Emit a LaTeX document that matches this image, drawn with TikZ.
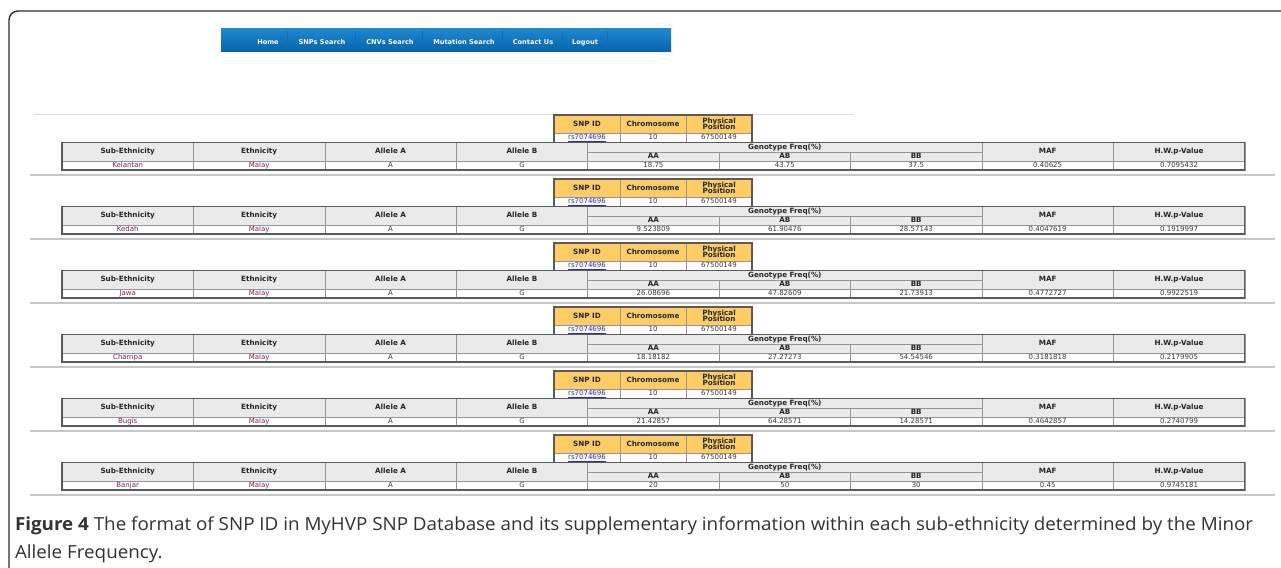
\documentclass[tikz,border=0pt]{standalone}
\usepackage{fontspec}
\usepackage{graphicx}
\newfontfamily\tabfont{DejaVu Sans}
\newfontfamily\capfont{Open Sans}
\definecolor{navtop}{RGB}{30,136,208}
\definecolor{navbot}{RGB}{4,98,170}
\definecolor{navdiv}{RGB}{20,110,180}
\definecolor{snphead}{RGB}{255,204,102}
\definecolor{tabhead}{RGB}{234,234,234}
\definecolor{tabline}{RGB}{90,90,90}
\definecolor{innerline}{RGB}{150,150,150}
\definecolor{sepgray}{RGB}{200,200,200}
\definecolor{linkblue}{RGB}{40,40,220}
\definecolor{subcol}{RGB}{110,40,90}
\definecolor{datacol}{RGB}{60,60,60}
\definecolor{captext}{RGB}{50,50,50}
\definecolor{framecol}{RGB}{45,45,45}
\begin{document}
\begin{tikzpicture}[x=1pt,y=-1pt,
  every node/.style={inner sep=0pt,outer sep=0pt},
  navitem/.style={text=white,font=\tabfont\bfseries\fontsize{6.6}{7}\selectfont,text height=4.8pt,text depth=1.4pt},
  hfontbase/.style={font=\tabfont\bfseries\fontsize{7.2}{7.4}\selectfont,text=black!85},
  hfont/.style={hfontbase,text height=5.2pt,text depth=1.2pt},
  dfont/.style={font=\tabfont\fontsize{7}{7}\selectfont,text=datacol,text height=5.1pt,text depth=1.3pt},
  snphbox/.style={draw=innerline,line width=0.6pt,fill=snphead,minimum width=66pt,minimum height=18pt},
  snphcell/.style={snphbox,hfont},
  snphcelltwo/.style={snphbox,hfontbase,align=center},
  snpdcell/.style={draw=innerline,line width=0.6pt,fill=white,minimum width=66pt,minimum height=9.5pt,dfont},
  hcell/.style={draw=innerline,line width=0.6pt,fill=tabhead,minimum width=131.42pt,minimum height=18.5pt,hfont},
  gcell/.style={draw=innerline,line width=0.6pt,fill=tabhead,minimum width=394.26pt,minimum height=9.5pt,hfont},
  scell/.style={draw=innerline,line width=0.6pt,fill=tabhead,minimum width=131.42pt,minimum height=9pt,hfont},
  dcell/.style={draw=innerline,line width=0.6pt,fill=white,minimum width=131.42pt,minimum height=9pt,dfont},
  outer/.style={draw=tabline,line width=1.1pt},
  sepline/.style={draw=sepgray,line width=1.8pt},
]
\useasboundingbox (0,0) rectangle (1281,567);
\begin{scope}
\clip (0,0) rectangle (1281,567);
\fill[white] (0,0) rectangle (1281,567);
\draw[framecol,line width=1.4pt,rounded corners=9pt] (9,11) rectangle (1320,610);
\end{scope}

% navigation bar
\node[top color=navtop,bottom color=navbot,minimum width=450pt,minimum height=23pt] (nav) at (446,40.5) {};
\foreach \x/\t/\n in {268/Home/home,322/SNPs Search/snps,390/CNVs Search/cnvs,464/Mutation Search/mut,533/Contact Us/contact,585/Logout/logout}{
  \node[navitem] (nav-\n) at (\x,42.5) {\t};
}
\foreach \x in {287,355,422,502,562,607}{
  \draw[navdiv,line width=0.6pt] (\x,31) -- (\x,50);
}

% faint top rule
\coordinate (rulea) at (33,114.5);
\coordinate (ruleb) at (854,114.5);
\draw[black!12,line width=0.8pt] (rulea) -- (ruleb);

\foreach \b/\sub/\aa/\ab/\bb/\maf/\hw in {
  0/Kelantan/18.75/43.75/37.5/0.40625/0.7095432,
  1/Kedah/9.523809/61.90476/28.57143/0.4047619/0.1919997,
  2/Jawa/26.08696/47.82609/21.73913/0.4772727/0.9922519,
  3/Champa/18.18182/27.27273/54.54546/0.3181818/0.2179905,
  4/Bugis/21.42857/64.28571/14.28571/0.4642857/0.2740799,
  5/Banjar/20/50/30/0.45/0.9745181}{
  \pgfmathsetmacro{\yo}{64*\b}
  % SNP table
  \node[snphcell] (snpid-\b) at (587,124+\yo) {SNP ID};
  \node[snphcell] (chrom-\b) at (653,124+\yo) {Chromosome};
  \node[snphcelltwo] (pos-\b) at (719,124+\yo) {Physical\\[-1pt]Position};
  \node[snpdcell,text=linkblue] (snpidv-\b) at (587,137.75+\yo) {\underline{rs7074696}};
  \node[snpdcell] (chromv-\b) at (653,137.75+\yo) {10};
  \node[snpdcell] (posv-\b) at (719,137.75+\yo) {67500149};
  \draw[outer] (snpid-\b.north west) rectangle (posv-\b.south east);
  % main table header
  \node[hcell] (hsub-\b) at (127.71,151.75+\yo) {Sub-Ethnicity};
  \node[hcell] (heth-\b) at (259.13,151.75+\yo) {Ethnicity};
  \node[hcell] (hala-\b) at (390.55,151.75+\yo) {Allele A};
  \node[hcell] (halb-\b) at (521.97,151.75+\yo) {Allele B};
  \node[gcell] (hgen-\b) at (784.81,147.25+\yo) {Genotype Freq(\%)};
  \node[scell] (haa-\b) at (653.39,156.5+\yo) {AA};
  \node[scell] (hab-\b) at (784.81,156.5+\yo) {AB};
  \node[scell] (hbb-\b) at (916.23,156.5+\yo) {BB};
  \node[hcell] (hmaf-\b) at (1047.65,151.75+\yo) {MAF};
  \node[hcell] (hhw-\b) at (1179.07,151.75+\yo) {H.W.p-Value};
  % main table data
  \node[dcell,text=subcol] (dsub-\b) at (127.71,165.5+\yo) {\sub};
  \node[dcell,text=subcol] (deth-\b) at (259.13,165.5+\yo) {Malay};
  \node[dcell] (dala-\b) at (390.55,165.5+\yo) {A};
  \node[dcell] (dalb-\b) at (521.97,165.5+\yo) {G};
  \node[dcell] (daa-\b) at (653.39,165.5+\yo) {\aa};
  \node[dcell] (dab-\b) at (784.81,165.5+\yo) {\ab};
  \node[dcell] (dbb-\b) at (916.23,165.5+\yo) {\bb};
  \node[dcell] (dmaf-\b) at (1047.65,165.5+\yo) {\maf};
  \node[dcell] (dhw-\b) at (1179.07,165.5+\yo) {\hw};
  \draw[outer] (hsub-\b.north west) rectangle (dhw-\b.south east);
  % separator
  \coordinate (sepa-\b) at (30,175+\yo);
  \coordinate (sepb-\b) at (1275,175+\yo);
  \draw[sepline] (sepa-\b) -- (sepb-\b);
}

% caption
\node[anchor=north west,text=captext] (caption) at (15,511.5) {\resizebox*{1238pt}{\totalheight}{\capfont\fontsize{18}{27}\selectfont
  \begin{tabular}{@{}l@{}}\textbf{Figure 4} The format of SNP ID in MyHVP SNP Database and its supplementary information within each sub-ethnicity determined by the Minor\\[1pt]
  Allele Frequency.\end{tabular}}};
\end{tikzpicture}
\end{document}
